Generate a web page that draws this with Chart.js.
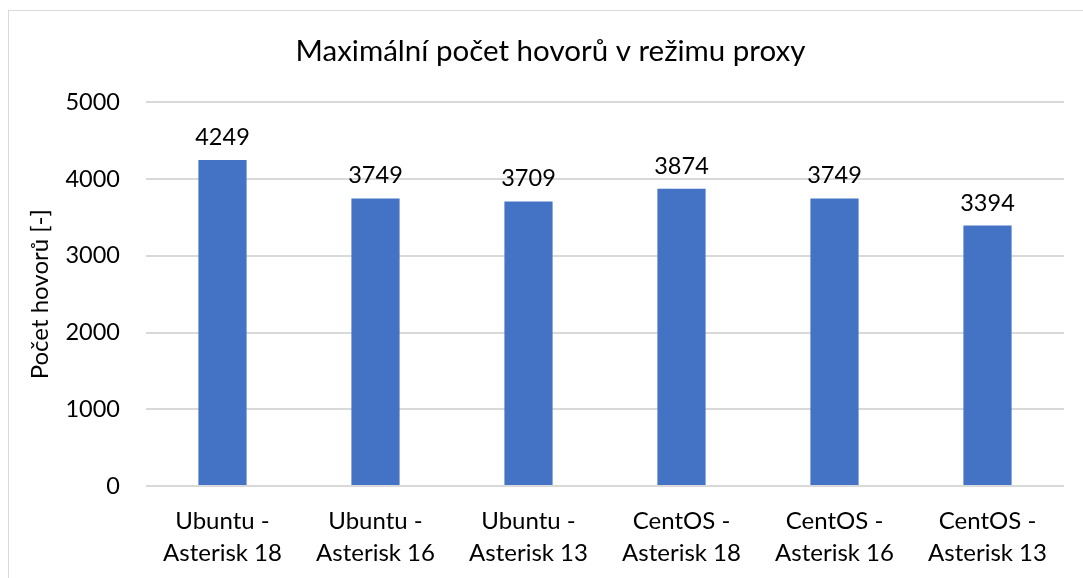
<!DOCTYPE html>
<html>
<head>
<meta charset="utf-8">
<script src="https://cdn.jsdelivr.net/npm/chart.js@4"></script>
<style>
  html, body { margin: 0; padding: 0; background: #fff; overflow: hidden; }
  #frame { position: absolute; left: 8px; top: 10px; width: 1200px; height: 700px; border: 1px solid #d9d9d9; }
  #wrap { position: absolute; left: 0; top: 0; width: 1083px; height: 578px; }
</style>
</head>
<body>
<div id="frame"></div>
<div id="wrap"><canvas id="chart" width="1083" height="578"></canvas></div>
<script>
// data
const categories = [
    ['Ubuntu -', 'Asterisk 18'],
    ['Ubuntu -', 'Asterisk 16'],
    ['Ubuntu -', 'Asterisk 13'],
    ['CentOS -', 'Asterisk 18'],
    ['CentOS -', 'Asterisk 16'],
    ['CentOS -', 'Asterisk 13'],
];
const maxCalls = [4249, 3749, 3709, 3874, 3749, 3394];
const yTicks = [0, 1000, 2000, 3000, 4000, 5000];

const FONT = 'Lato, "Open Sans", sans-serif';

// draws the value above each bar
const barValues = {
    id: 'barValues',
    afterDatasetsDraw(chart) {
        const ctx = chart.ctx;
        ctx.save();
        ctx.font = '23.5px ' + FONT;
        ctx.fillStyle = '#000';
        ctx.textAlign = 'center';
        ctx.textBaseline = 'alphabetic';
        chart.getDatasetMeta(0).data.forEach((bar, i) => {
            ctx.fillText(String(maxCalls[i]), bar.x, bar.y - 15);
        });
        ctx.restore();
    }
};

new Chart(document.getElementById('chart'), {
    type: 'bar',
    data: {
        labels: categories,
        datasets: [{
            data: maxCalls,
            backgroundColor: '#4472c4',
            borderWidth: 0,
            barPercentage: 0.63,
            categoryPercentage: 0.5,
        }],
    },
    options: {
        responsive: false,
        animation: false,
        layout: { padding: { top: 34, right: 19, left: 37, bottom: 0 } },
        plugins: {
            legend: { display: false },
            tooltip: { enabled: false },
            title: {
                display: true,
                text: 'Maximální počet hovorů v režimu proxy',
                color: '#000',
                font: { family: FONT, size: 29.5, weight: 'normal' },
                padding: { top: 0, bottom: 33 },
            },
        },
        scales: {
            y: {
                min: 0,
                max: 5000,
                afterBuildTicks(axis) { axis.ticks = yTicks.map(v => ({ value: v })); },
                afterFit(axis) { axis.width = 109; },
                grid: { color: '#d9d9d9', lineWidth: 2, drawTicks: false },
                border: { display: false },
                ticks: {
                    color: '#000',
                    padding: 26,
                    font: { family: FONT, size: 23.5 },
                    callback: v => String(v),
                },
                title: {
                    display: true,
                    text: 'Počet hovorů [-]',
                    color: '#000',
                    font: { family: FONT, size: 24 },
                    padding: { top: -11, bottom: 0 },
                },
            },
            x: {
                afterFit(axis) { axis.height = 92; },
                grid: { display: false, drawTicks: false },
                border: { display: false },
                ticks: {
                    color: '#000',
                    padding: 20,
                    maxRotation: 0,
                    font: { family: FONT, size: 24, lineHeight: 1.3 },
                },
            },
        },
    },
    plugins: [barValues],
});
</script>
</body>
</html>
